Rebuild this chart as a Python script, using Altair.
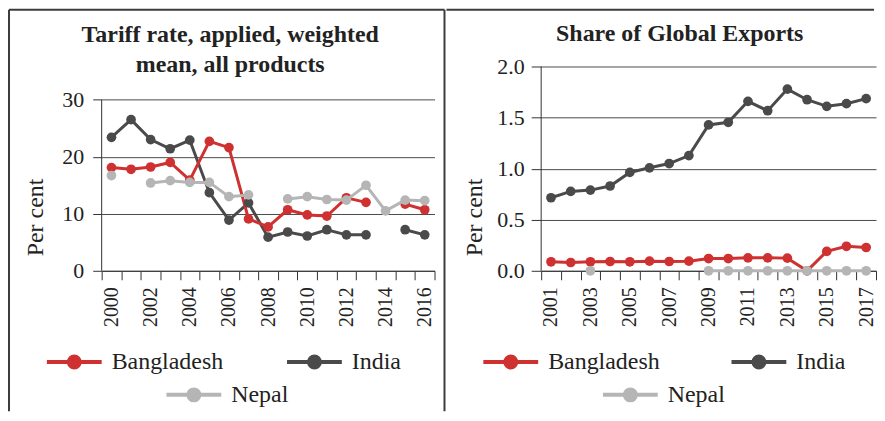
import altair as alt
import pandas as pd

# ---------------- data ----------------
left_years = list(range(2000, 2017))
tariff_bangladesh = [18.1, 17.8, 18.2, 19.0, 15.9, 22.7, 21.6, 9.1, 7.7, 10.7, 9.8, 9.6, 12.8, 12.0, None, 11.7, 10.7]
tariff_india = [23.4, 26.5, 23.0, 21.4, 22.9, 13.7, 8.9, 11.9, 5.9, 6.8, 6.1, 7.2, 6.3, 6.3, None, 7.2, 6.3]
tariff_nepal = [16.7, None, 15.4, 15.8, 15.5, 15.5, 13.0, 13.3, None, 12.6, 13.0, 12.5, 12.4, 15.0, 10.5, 12.4, 12.3]

right_years = list(range(2001, 2018))
share_bangladesh = [0.088, 0.081, 0.088, 0.091, 0.088, 0.094, 0.091, 0.094, 0.12, 0.12, 0.127, 0.127, 0.124, 0.0, 0.19, 0.24, 0.228]
share_india = [0.715, 0.777, 0.79, 0.83, 0.963, 1.008, 1.05, 1.128, 1.428, 1.454, 1.659, 1.567, 1.779, 1.675, 1.61, 1.636, 1.685]
share_nepal = [None, None, 0.0, None, None, None, None, None, 0.0, 0.0, 0.0, 0.0, 0.0, 0.0, 0.0, 0.0, 0.0]

left_title = "Tariff rate, applied, weighted\nmean, all products"
right_title = "Share of Global Exports"
left_ticks = [0, 10, 20, 30]
right_ticks = [0, 0.5, 1.0, 1.5, 2.0]
left_domain_top = 35.82   # plot area headroom above the 30 gridline
right_domain_top = 2.0

RED = "#cf3030"
DARK = "#4a4a4a"
LIGHT = "#b5b5b5"
FONT = "Liberation Serif"
TXT = "#222222"
SYMBOL = ("M-1,0L1,0"
          "M0.2,0A0.2,0.2,0,1,1,-0.2,0A0.2,0.2,0,1,1,0.2,0"
          "M0.07,0A0.07,0.07,0,1,1,-0.07,0A0.07,0.07,0,1,1,0.07,0")


def long_df(years, series):
    rows = []
    for name, vals in series.items():
        seg = 0
        gap = True
        for yr, v in zip(years, vals):
            if v is None:
                gap = True
                continue
            if gap:
                seg += 1
                gap = False
            rows.append({"year": yr, "country": name, "value": v, "seg": f"{name}-{seg}"})
    return pd.DataFrame(rows)


def legend(x, y, colpad):
    return alt.Legend(
        orient="none", legendX=x, legendY=y, direction="horizontal", title=None,
        symbolType=SYMBOL, symbolSize=3025, symbolStrokeWidth=4,
        labelFont=FONT, labelFontSize=24, labelColor=TXT, labelOffset=8,
        columnPadding=colpad, padding=0,
    )


def panel(years, b, i, n, title, ticks, dtop, yfmt, w, h, odd, lab_pad, tick_sz, title_pad,
          leg, colpad, rules, tpos):
    bi = long_df(years, {"India": i, "Bangladesh": b})
    ne = long_df(years, {"Nepal": n})
    parity = 1 if odd else 0
    x = alt.X(
        "year:O",
        scale=alt.Scale(type="band", paddingInner=0, paddingOuter=0, domain=years),
        axis=alt.Axis(
            title=None, tickBand="extent", labelAngle=-90, labelOverlap=False,
            labelExpr=f"datum.value % 2 == {parity} ? datum.label : ''",
            tickSize=9, labelPadding=7, labelFontSize=20, grid=False,
        ),
    )
    yscale = alt.Scale(domain=[ticks[0], dtop], nice=False, zero=True)
    yaxis = alt.Axis(
        title="Per cent", values=ticks, format=yfmt, grid=True, domain=False,
        tickSize=tick_sz, labelPadding=lab_pad, titlePadding=title_pad,
        labelFontSize=22, titleFontSize=24, titleY=151,
    )
    y = alt.Y("value:Q", scale=yscale, axis=yaxis)
    cscale = alt.Scale(domain=["Bangladesh", "India"], range=[RED, DARK])
    bi_line = alt.Chart(bi).mark_line(strokeWidth=3).encode(
        x=x, y=y, detail="seg:N",
        color=alt.Color("country:N", scale=cscale, legend=legend(leg[0], leg[1], colpad)),
        order=alt.Order("year:O"),
    )
    bi_pts = alt.Chart(bi).mark_circle(size=95, opacity=1).encode(
        x=x, y=y, color=alt.Color("country:N", scale=cscale, legend=None),
    )
    ne_line = alt.Chart(ne).mark_line(strokeWidth=3).encode(
        x=x, y=y, detail="seg:N",
        stroke=alt.Stroke("country:N", scale=alt.Scale(domain=["Nepal"], range=[LIGHT]),
                          legend=legend(leg[2], leg[3], colpad)),
        order=alt.Order("year:O"),
    )
    ne_pts = alt.Chart(ne).mark_circle(size=95, opacity=1, color=LIGHT).encode(x=x, y=y)

    one = pd.DataFrame({"k": [0]})
    # y-axis line, from 0 up to the top tick
    axis_line = alt.Chart(one).mark_rule(color="#333333", strokeWidth=1).encode(
        x=alt.value(0),
        y=alt.Y(datum=ticks[0], type="quantitative", scale=yscale, axis=yaxis),
        y2=alt.datum(ticks[-1]),
    )
    extra = [axis_line]
    for (x1, x2, y1, y2) in rules:
        enc = {"x": alt.value(x1), "y": alt.value(y1)}
        if x2 is not None:
            enc["x2"] = alt.value(x2)
        if y2 is not None:
            enc["y2"] = alt.value(y2)
        extra.append(alt.Chart(one).mark_rule(color="#3c3c3c", strokeWidth=2).encode(**enc))
    extra.append(
        alt.Chart(one).mark_text(
            font=FONT, fontSize=24, fontWeight="bold", color=TXT, align="center",
            baseline="alphabetic", lineBreak="\n", lineHeight=31,
        ).encode(x=alt.value(tpos[0]), y=alt.value(tpos[1]), text=alt.value(title))
    )

    return alt.layer(bi_line, bi_pts, ne_line, ne_pts, *extra).properties(width=w, height=h)


left = panel(
    left_years, tariff_bangladesh, tariff_india, tariff_nepal, left_title, left_ticks,
    left_domain_top, "d", 334, 205, False, 9, 9, 14,
    (-57, 267, 63, 300), 56,
    [(-93, 344, -57, None), (-93, None, -57, 346), (344, None, -57, 346)],
    (129, -25),
)
right = panel(
    right_years, share_bangladesh, share_india, share_nepal, right_title, right_ticks,
    right_domain_top, ".1f", 336, 205, True, 7, 10, 10,
    (-60, 267, 60, 300), 64,
    [(-95, 334, -57, None)],
    (139, -26),
)

chart = alt.hconcat(left, right, spacing=0).resolve_scale(
    x="independent", y="independent", color="independent", stroke="independent"
).properties(padding=0).configure_view(stroke=None).configure_axis(
    labelFont=FONT, titleFont=FONT, labelColor=TXT, titleColor=TXT,
    titleFontWeight="normal", domainColor="#333333", tickColor="#333333",
    gridColor="#4a4a4a", gridWidth=1,
)

chart.save("out.html", embed_options={"renderer": "svg", "actions": False})
